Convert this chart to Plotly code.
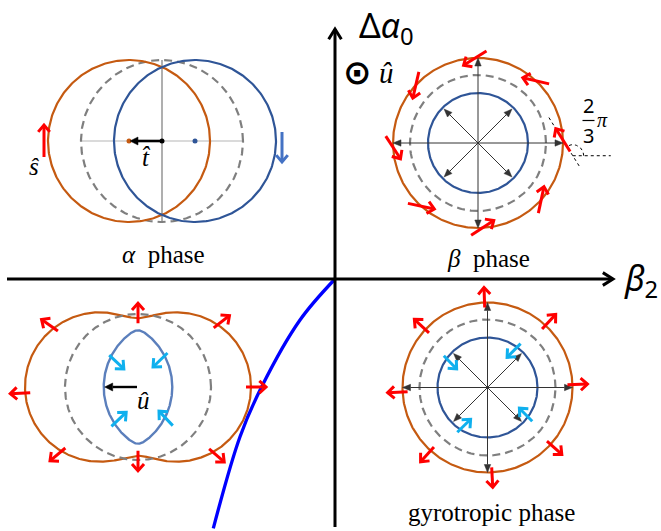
import numpy as np
import plotly.graph_objects as go

# ---------------- data ----------------
axis_titles = ["Δ<i>α</i><sub>0</sub>", "<i>β</i><sub>2</sub>"]
phase_titles = ["<i>α</i>  phase", "<i>β</i>  phase", "gyrotropic phase"]
vector_labels = ["<i>ŝ</i>", "<i>t\u0302</i>", "<i>û</i>", "<i>û</i>"]
angle_label = ["2", "3", "<i>π</i>"]

# α phase: two displaced circles
alpha_r = 81
alpha_shift = 33

# β / gyrotropic rings: orange, dashed, blue radii
ring_r = [85, 68, 50]
red_deg = [2, 47, 92, 137, 183, 228, 273, 318]
beta_twist_deg = 120                      # 2/3 π
black_deg = [0, 45, 90, 135, 180, 225, 270, 315]
black_len = [85, 48, 85, 48, 85, 48, 85, 48]

gyro_cyan_tail_r = [55, 54, 54, 56]
gyro_cyan_tail_deg = [53, 144, 236, 323]
gyro_cyan_tip_r = [36, 36, 36, 38]
gyro_cyan_tip_deg = [57, 149, 242, 327]

# bottom-left: peanut outline from two lobes, lens from two circles
lobe_r, lobe_shift = 74.7, 38.3
bl_dash_r = 73
lens_r, lens_shift = 67.4, 33.1
bl_red_deg = [0, 38, 90, 145, 183, 220, 270, 319]
bl_cyan_tail_r = [45, 43, 47.5, 52]
bl_cyan_tail_deg = [49, 132, 236, 312]
bl_cyan_tip_r = [25, 23, 28, 32]
bl_cyan_tip_deg = [53, 128, 245, 311]

# phase boundary curve in the (β2, Δα0) frame
curve_beta2 = [0, -35, -73.3, -95, -121.7]
curve_dalpha = [0, -41, -107.7, -157.7, -249.3]

# ---------------- layout (pixel frame) ----------------
W, H = 661, 531
O = (335, 279)
C_alpha = (162, 141)
C_beta = (478, 143)
C_bl = (138, 387)
C_gyro = (487.5, 387.5)

ORANGE = "#c55a11"
BLUE = "#2f5597"
LENS = "#5b7fbc"
GRAY = "#7f7f7f"
RED = "#ff0000"
CYAN = "#0fb0ee"
DARK = "#333333"

fig = go.Figure()


def P(c, r, deg):
    a = np.deg2rad(deg)
    return c[0] + r * np.cos(a), c[1] - r * np.sin(a)


def line(xs, ys, color, width, dash=None, shape="linear"):
    fig.add_trace(go.Scatter(x=list(xs), y=list(ys), mode="lines",
                             line=dict(color=color, width=width, dash=dash, shape=shape),
                             hoverinfo="skip"))


def circle(c, r, color, width, dash=None):
    t = np.linspace(0, 2 * np.pi, 361)
    line(c[0] + r * np.cos(t), c[1] - r * np.sin(t), color, width, dash)


def ray_t(theta, shift, R):
    return shift * np.cos(theta) + np.sqrt(R ** 2 - (shift * np.sin(theta)) ** 2)


class Arrows:
    def __init__(self):
        self.x, self.y = [], []

    def add(self, x0, y0, x1, y1, hl, ha_deg):
        a = np.arctan2(y1 - y0, x1 - x0)
        ha = np.deg2rad(ha_deg)
        wl = (x1 - hl * np.cos(a - ha), y1 - hl * np.sin(a - ha))
        wr = (x1 - hl * np.cos(a + ha), y1 - hl * np.sin(a + ha))
        self.x += [x0, x1, None, wl[0], x1, wr[0], None]
        self.y += [y0, y1, None, wl[1], y1, wr[1], None]

    def draw(self, color, width):
        line(self.x, self.y, color, width)


class FilledArrows:
    def __init__(self):
        self.sx, self.sy, self.tx, self.ty = [], [], [], []

    def add(self, x0, y0, x1, y1, hl, hw):
        a = np.arctan2(y1 - y0, x1 - x0)
        bx, by = x1 - hl * np.cos(a), y1 - hl * np.sin(a)
        nx, ny = -np.sin(a), np.cos(a)
        self.sx += [x0, bx, None]
        self.sy += [y0, by, None]
        self.tx += [x1, bx + hw * nx, bx - hw * nx, x1, None]
        self.ty += [y1, by + hw * ny, by - hw * ny, y1, None]

    def draw(self, color, width):
        line(self.sx, self.sy, color, width)
        fig.add_trace(go.Scatter(x=self.tx, y=self.ty, mode="lines", fill="toself",
                                 fillcolor=color, line=dict(color=color, width=0.5),
                                 hoverinfo="skip"))


# ---------------- axes ----------------
ax = Arrows()
ax.add(O[0], 527, O[0], 29, 12, 32)
ax.add(7, O[1], 613, O[1], 12, 32)

# boundary curve
line([O[0] + b for b in curve_beta2], [O[1] - d for d in curve_dalpha], "#0000ff", 3.3,
     shape="spline")
ax.draw("black", 3)

# ---------------- α phase ----------------
cx, cy = C_alpha
line([cx - alpha_r + 1, cx + alpha_r - 1], [cy, cy], "#b5b5b5", 1.2)
line([cx, cx], [cy - alpha_r, cy + alpha_r], "#7a7a7a", 1.2)
circle(C_alpha, alpha_r, GRAY, 2.2, dash="8px,5px")
circle((cx - alpha_shift, cy), alpha_r, ORANGE, 2.2)
circle((cx + alpha_shift, cy), alpha_r, BLUE, 2.2)
fig.add_trace(go.Scatter(x=[cx - alpha_shift, cx + alpha_shift, cx], y=[cy, cy, cy],
                         mode="markers", marker=dict(size=5, color=[ORANGE, BLUE, "black"]),
                         hoverinfo="skip"))
ta = FilledArrows()
ta.add(cx, cy, cx - alpha_shift + 1, cy, 8, 4)
ta.draw("black", 2.6)
sa = Arrows()
sa.add(cx - alpha_shift - alpha_r - 4, cy + 16, cx - alpha_shift - alpha_r - 4, cy - 16, 9, 40)
sa.draw(RED, 3)
ba = Arrows()
ba.add(cx + alpha_shift + alpha_r + 6, cy - 9, cx + alpha_shift + alpha_r + 6, cy + 21, 9, 40)
ba.draw("#4472c4", 3)

# ---------------- β phase ----------------
circle(C_beta, ring_r[0], ORANGE, 2.2)
circle(C_beta, ring_r[1], GRAY, 2.2, dash="8px,5px")
circle(C_beta, ring_r[2], BLUE, 2.2)
bk = FilledArrows()
for d, L in zip(black_deg, black_len):
    x1, y1 = P(C_beta, L, d)
    bk.add(C_beta[0], C_beta[1], x1, y1, 8, 3.2)
for d, L in zip(black_deg, black_len):
    x1, y1 = P(C_gyro, L, d)
    bk.add(C_gyro[0], C_gyro[1], x1, y1, 8, 3.2)

rb = Arrows()
for d in red_deg:
    mx, my = P(C_beta, ring_r[0], d)
    a = np.deg2rad(d + beta_twist_deg)
    ux, uy = np.cos(a), -np.sin(a)
    rb.add(mx - 13.5 * ux, my - 13.5 * uy, mx + 13.5 * ux, my + 13.5 * uy, 9, 42)

# 2/3 π construction
mx, my = P(C_beta, ring_r[0], red_deg[0])
a = np.deg2rad(red_deg[0] + beta_twist_deg)
ux, uy = np.cos(a), -np.sin(a)
px, py = mx - 18.5 * ux, my - 18.5 * uy
line([px - 12 * ux, px + 46 * ux], [py - 12 * uy, py + 46 * uy], "black", 1, dash="dot")
line([px, px + 38], [py, py], "black", 1, dash="dot")
tt = np.linspace(0, np.deg2rad(beta_twist_deg), 30)
line(px + 11 * np.cos(tt), py - 11 * np.sin(tt), "black", 1, dash="dot")
line([582.5, 594.5], [120.5, 120.5], "black", 1.2)

# ---------------- gyrotropic phase ----------------
circle(C_gyro, ring_r[0], ORANGE, 2.2)
circle(C_gyro, ring_r[1], GRAY, 2.2, dash="8px,5px")
circle(C_gyro, ring_r[2], BLUE, 2.2)
bk.draw(DARK, 1)
rg = Arrows()
for d in red_deg:
    x0, y0 = P(C_gyro, 80, d)
    x1, y1 = P(C_gyro, 100, d)
    rg.add(x0, y0, x1, y1, 9, 42)
cy_a = Arrows()
for r0, d0, r1, d1 in zip(gyro_cyan_tail_r, gyro_cyan_tail_deg, gyro_cyan_tip_r, gyro_cyan_tip_deg):
    x0, y0 = P(C_gyro, r0, d0)
    x1, y1 = P(C_gyro, r1, d1)
    cy_a.add(x0, y0, x1, y1, 9, 42)

# ---------------- bottom-left ----------------
th = np.linspace(0, 2 * np.pi, 721)
p = 10
t1 = ray_t(th, lobe_shift, lobe_r)
t2 = ray_t(th, -lobe_shift, lobe_r)
rp = (t1 ** p + t2 ** p) ** (1 / p)
line(C_bl[0] + rp * np.cos(th), C_bl[1] - rp * np.sin(th), ORANGE, 2.2)
circle(C_bl, bl_dash_r, GRAY, 2.2, dash="8px,5px")
pl = 20
l1 = ray_t(th, lens_shift, lens_r)
l2 = ray_t(th, -lens_shift, lens_r)
rl = (l1 ** -pl + l2 ** -pl) ** (-1 / pl)
line(C_bl[0] + rl * np.cos(th), C_bl[1] - rl * np.sin(th), LENS, 2.4)
ua = FilledArrows()
ua.add(C_bl[0] - 1, C_bl[1], C_bl[0] - rl[360] + 1, C_bl[1], 8, 4)
ua.draw("black", 2.4)
for d in bl_red_deg:
    th_d = np.deg2rad(d)
    rc = (ray_t(th_d, lobe_shift, lobe_r) ** p + ray_t(th_d, -lobe_shift, lobe_r) ** p) ** (1 / p)
    x0, y0 = P(C_bl, rc - 5, d)
    x1, y1 = P(C_bl, rc + 15, d)
    rg.add(x0, y0, x1, y1, 9, 42)
for r0, d0, r1, d1 in zip(bl_cyan_tail_r, bl_cyan_tail_deg, bl_cyan_tip_r, bl_cyan_tip_deg):
    x0, y0 = P(C_bl, r0, d0)
    x1, y1 = P(C_bl, r1, d1)
    cy_a.add(x0, y0, x1, y1, 9, 42)

rb.draw(RED, 3)
rg.draw(RED, 3)
cy_a.draw(CYAN, 3)

# ---------------- texts ----------------
SERIF = "Liberation Serif"
ann = []


def txt(x, y, s, size, family=SERIF, color="black"):
    ann.append(dict(x=x, y=y, xref="x", yref="y", text=s, showarrow=False,
                    xanchor="center", yanchor="middle",
                    font=dict(family=family, size=size, color=color)))


txt(386, 27, axis_titles[0], 34, "Noto Sans")
txt(641, 280, axis_titles[1], 34, "Noto Sans")
txt(357, 72, "<b>⊙</b>", 34, "DejaVu Sans")
txt(386, 73, vector_labels[3], 29)
txt(163, 254, phase_titles[0], 25)
txt(488, 258, phase_titles[1], 25)
txt(491, 512, phase_titles[2], 25)
txt(34, 166, vector_labels[0], 25)
txt(146, 157, vector_labels[1], 25)
txt(143, 400, vector_labels[2], 25)
txt(588.5, 105, angle_label[0], 20, "Noto Sans")
txt(588.5, 135, angle_label[1], 20, "Noto Sans")
txt(602, 120, angle_label[2], 20)

fig.update_layout(
    width=W, height=H, margin=dict(l=0, r=0, t=0, b=0),
    paper_bgcolor="white", plot_bgcolor="white", showlegend=False,
    xaxis=dict(range=[0, W], visible=False, fixedrange=True),
    yaxis=dict(range=[H, 0], visible=False, fixedrange=True),
    annotations=ann,
)

fig.write_html("out.html", post_script="document.body.style.margin='0';",
               config={"displayModeBar": False})
